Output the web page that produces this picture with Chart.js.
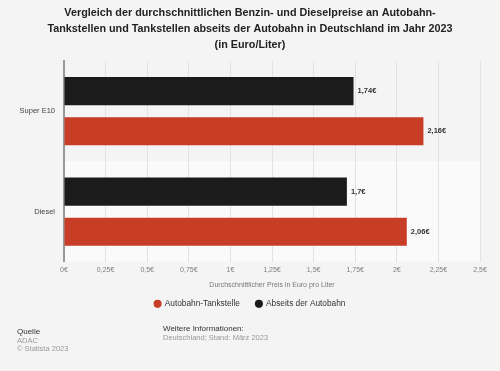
<!DOCTYPE html>
<html>
<head>
<meta charset="utf-8">
<script src="https://cdn.jsdelivr.net/npm/chart.js@4.4.0/dist/chart.umd.min.js"></script>
<style>
    body { margin: 0; background: #f4f4f4; font-family: "Liberation Sans", Arial, sans-serif; }
    #wrap { position: relative; width: 500px; height: 371px; }
    canvas { position: absolute; left: 0; top: 0; }
    .foot { position: absolute; font-size: 7.5px; line-height: 8.5px; color: #999; }
    .foot b { font-weight: normal; color: #333; font-size: 8px; }
</style>
</head>
<body>
<div id="wrap">
    <canvas id="priceChart" width="500" height="371"></canvas>
    <div class="foot" style="left:17px; top:328px;"><b>Quelle</b><br>ADAC<br>© Statista 2023</div>
    <div class="foot" style="left:163px; top:325px;"><b>Weitere Informationen:</b><br>Deutschland; Stand: März 2023</div>
</div>
<script>
//chart data
const categories = ['Super E10', 'Diesel'];
const abseitsValues = [1.74, 1.70];
const autobahnValues = [2.16, 2.06];
const xTicks = [0, 0.25, 0.5, 0.75, 1, 1.25, 1.5, 1.75, 2, 2.25, 2.5];

const titleLines = [
    'Vergleich der durchschnittlichen Benzin- und Dieselpreise an Autobahn-',
    'Tankstellen und Tankstellen abseits der Autobahn in Deutschland im Jahr 2023',
    '(in Euro/Liter)'
];

const fontFamily = '"Liberation Sans", Arial, sans-serif';

//helper to format numbers the german way
function euro(v) {
    return String(v).replace('.', ',') + '€';
}

//plugin to paint the page and the alternating category bands
const bandPlugin = {
    id: 'bands',
    beforeDraw(chart) {
        const ctx = chart.ctx;
        const area = chart.chartArea;
        ctx.save();
        ctx.fillStyle = '#f4f4f4';
        ctx.fillRect(0, 0, chart.width, chart.height);
        const h = (area.bottom - area.top) / categories.length;
        ctx.fillStyle = '#fafafa';
        for (let i = 1; i < categories.length; i += 2) {
            ctx.fillRect(area.left, area.top + i * h, area.right - area.left, h);
        }
        ctx.restore();
    }
};

//plugin to write the values next to each bar
const valueLabelPlugin = {
    id: 'valueLabels',
    afterDatasetsDraw(chart) {
        const ctx = chart.ctx;
        ctx.save();
        ctx.font = 'bold 7.5px ' + fontFamily;
        ctx.fillStyle = '#333';
        ctx.textBaseline = 'middle';
        chart.data.datasets.forEach((ds, i) => {
            chart.getDatasetMeta(i).data.forEach((bar, j) => {
                ctx.fillText(euro(ds.data[j]), bar.x + 4, bar.y);
            });
        });
        ctx.restore();
    }
};

new Chart(document.getElementById('priceChart'), {
    type: 'bar',
    data: {
        labels: categories,
        datasets: [{
            label: 'Abseits der Autobahn',
            data: abseitsValues,
            backgroundColor: '#1b1b1b',
            categoryPercentage: 0.8,
            barPercentage: 0.7
        }, {
            label: 'Autobahn-Tankstelle',
            data: autobahnValues,
            backgroundColor: '#c83d26',
            categoryPercentage: 0.8,
            barPercentage: 0.7
        }]
    },
    options: {
        indexAxis: 'y',
        responsive: false,
        animation: false,
        layout: {
            padding: { left: 10, right: 10, top: 4, bottom: 53 }
        },
        scales: {
            x: {
                min: 0,
                max: 2.5,
                afterBuildTicks: scale => { scale.ticks = xTicks.map(v => ({ value: v })); },
                ticks: {
                    color: '#808080',
                    font: { size: 7, family: fontFamily },
                    padding: 4,
                    callback: v => euro(v)
                },
                grid: { color: '#e3e3e3', drawTicks: false },
                border: { display: false },
                title: {
                    display: true,
                    text: 'Durchschnittlicher Preis in Euro pro Liter',
                    color: '#777',
                    font: { size: 7, family: fontFamily },
                    padding: { top: 3, bottom: -6 }
                }
            },
            y: {
                afterFit: scale => { scale.width = 54; },
                ticks: {
                    color: '#444',
                    font: { size: 7.5, family: fontFamily },
                    padding: 9
                },
                grid: { display: false, drawTicks: false },
                border: { display: true, color: '#999', width: 2 }
            },
            //empty scale on the right, only keeps the plot off the right edge
            yRight: {
                axis: 'y',
                type: 'linear',
                position: 'right',
                afterFit: scale => { scale.width = 10; },
                ticks: { display: false },
                grid: { display: false, drawTicks: false },
                border: { display: false }
            }
        },
        plugins: {
            title: {
                display: true,
                text: titleLines,
                color: '#222',
                font: { size: 10.8, weight: 'bold', family: fontFamily, lineHeight: 1.48 },
                padding: { top: 1, bottom: 8 }
            },
            legend: {
                position: 'bottom',
                reverse: true,
                labels: {
                    color: '#333',
                    usePointStyle: true,
                    pointStyle: 'circle',
                    boxWidth: 6,
                    boxHeight: 5.7,
                    padding: 16,
                    font: { size: 8.3, family: fontFamily }
                }
            },
            tooltip: { enabled: false }
        }
    },
    plugins: [bandPlugin, valueLabelPlugin]
});
</script>
</body>
</html>
